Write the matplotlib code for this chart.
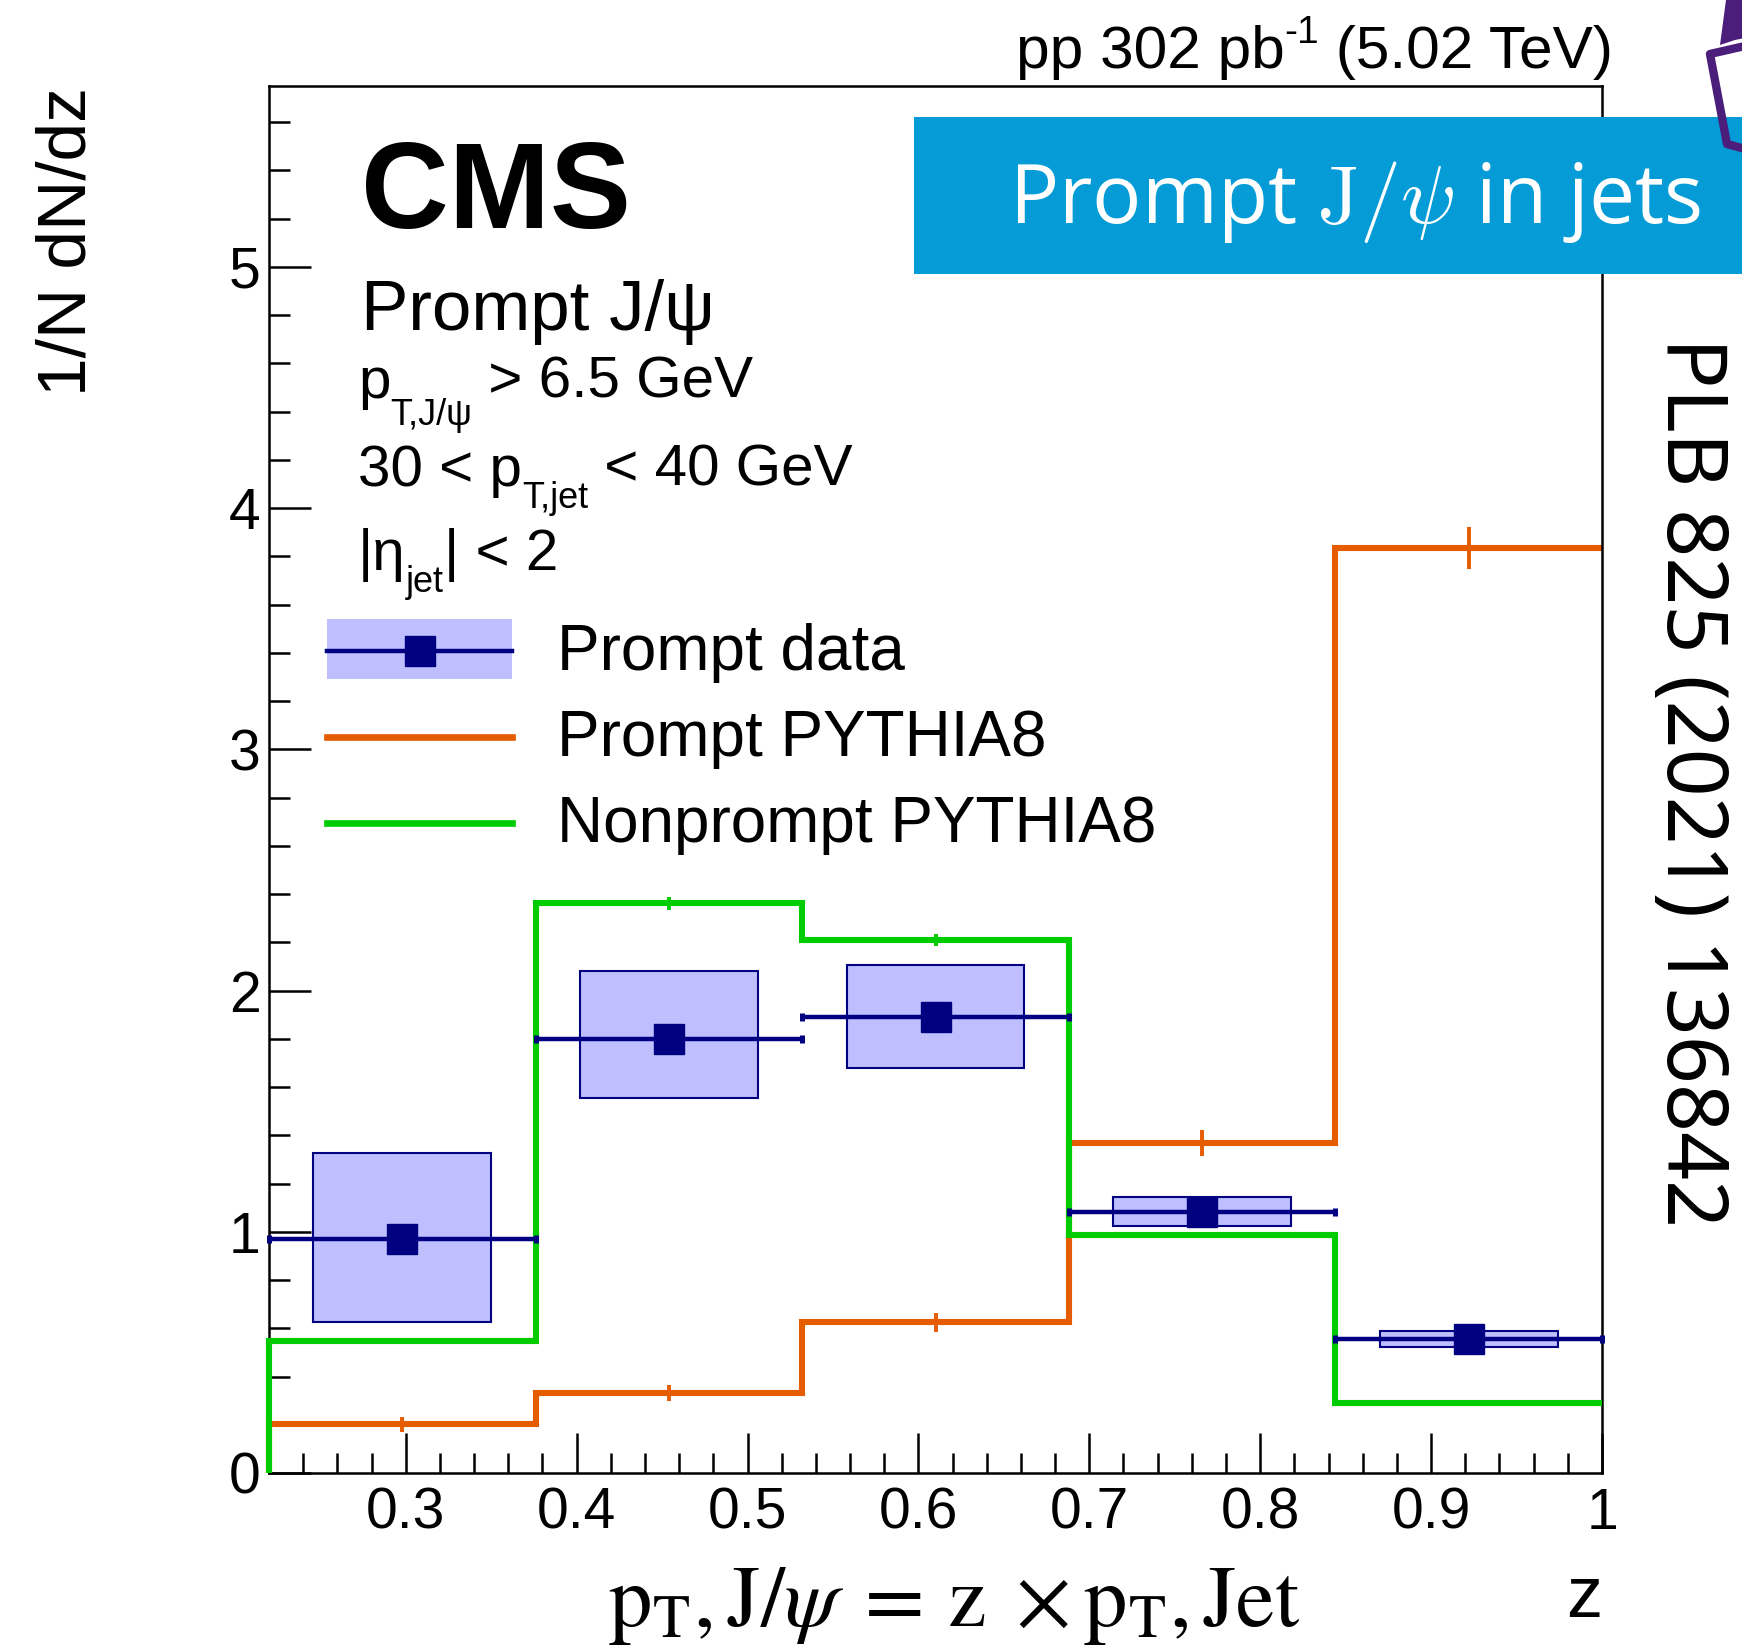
import numpy as np
import matplotlib
matplotlib.use("Agg")
import matplotlib.pyplot as plt
from matplotlib.ticker import FixedLocator, FixedFormatter, MultipleLocator
from matplotlib.patches import Rectangle, Patch
from matplotlib.lines import Line2D
from matplotlib.transforms import Affine2D
from matplotlib.legend_handler import HandlerPatch

# ---------------- data ----------------
z_edges = [0.22, 0.376, 0.532, 0.688, 0.844, 1.0]

data_prompt = [0.972, 1.800, 1.892, 1.083, 0.557]
data_syst_up = [0.355, 0.283, 0.216, 0.060, 0.033]
data_syst_dn = [0.346, 0.245, 0.212, 0.060, 0.033]

pythia_prompt = [0.202, 0.331, 0.625, 1.369, 3.836]
pythia_prompt_err = [0.032, 0.032, 0.040, 0.053, 0.087]

pythia_nonprompt = [0.548, 2.361, 2.211, 0.986, 0.292]
pythia_nonprompt_err = [0.012, 0.025, 0.025, 0.012, 0.012]

xtick_values = [0.3, 0.4, 0.5, 0.6, 0.7, 0.8, 0.9, 1.0]
xtick_labels = ["0.3", "0.4", "0.5", "0.6", "0.7", "0.8", "0.9", "1"]
ytick_values = [0, 1, 2, 3, 4, 5]
ytick_labels = ["0", "1", "2", "3", "4", "5"]

legend_labels = ["Prompt data", "Prompt PYTHIA8", "Nonprompt PYTHIA8"]

# ---------------- style ----------------
NAVY = "#000080"
BOXFILL = "#bfbfff"
ORANGE = "#e65c00"
GREEN = "#00cc00"
BANNER = "#049bd6"
PURPLE = "#4b1e7c"

plt.rcParams["font.family"] = ["Liberation Sans", "DejaVu Sans"]

W, H = 1742, 1648
fig = plt.figure(figsize=(W / 100, H / 100), dpi=100)
ax = fig.add_axes([269 / W, 1 - 1473 / H, (1602 - 269) / W, (1473 - 86) / H])

# pixel transform with origin at the top-left corner of the canvas
tpx = Affine2D().scale(1, -1).translate(0, H)

edges = np.asarray(z_edges)
centers = 0.5 * (edges[:-1] + edges[1:])
half_w = 0.5 * np.diff(edges)


def step_xy(vals):
    xs = np.concatenate([[edges[0]], np.repeat(edges, 2)[1:-1]])
    ys = np.concatenate([[0.0], np.repeat(vals, 2)])
    return xs, ys


# PYTHIA8 histograms
for vals, errs, col, z in [(pythia_prompt, pythia_prompt_err, ORANGE, 2),
                           (pythia_nonprompt, pythia_nonprompt_err, GREEN, 3)]:
    xs, ys = step_xy(vals)
    ax.plot(xs, ys, color=col, lw=4.4, clip_on=False, zorder=z,
            solid_joinstyle="miter", solid_capstyle="butt")
    ax.errorbar(centers, vals, yerr=errs, fmt="none", ecolor=col,
                elinewidth=2.8, capsize=0, zorder=z)

# data: systematic boxes
box_w = (2.0 / 3.0) * np.diff(edges)
up = np.asarray(data_syst_up)
dn = np.asarray(data_syst_dn)
vals = np.asarray(data_prompt)
ax.bar(centers, up + dn, bottom=vals - dn, width=box_w, facecolor=BOXFILL,
       edgecolor=NAVY, linewidth=1.5, zorder=4)

# data points with bin-width bars
eb = ax.errorbar(centers, vals, xerr=half_w, fmt="s", color=NAVY, ms=21,
                 elinewidth=3.2, capsize=2.9, capthick=3.6, zorder=5)
for art in eb.lines[1] + eb.lines[2] + (eb.lines[0],):
    art.set_clip_on(False)

# axes
ax.set_xlim(edges[0], edges[-1])
ax.set_ylim(0, 5.75)
ax.xaxis.set_major_locator(FixedLocator(xtick_values))
ax.xaxis.set_major_formatter(FixedFormatter(xtick_labels))
ax.yaxis.set_major_locator(FixedLocator(ytick_values))
ax.yaxis.set_major_formatter(FixedFormatter(ytick_labels))
ax.xaxis.set_minor_locator(MultipleLocator(0.02))
ax.yaxis.set_minor_locator(MultipleLocator(0.2))
ax.tick_params(which="both", direction="in", top=False, right=False, width=1.8,
               labelsize=41, color="black")
ax.tick_params(axis="x", which="major", length=28.8, pad=10)
ax.tick_params(axis="x", which="minor", length=14.4)
ax.tick_params(axis="y", which="major", length=30, pad=6)
ax.tick_params(axis="y", which="minor", length=15)
for sp in ax.spines.values():
    sp.set_linewidth(1.8)


# legend
def band_key(legend, orig_handle, xdescent, ydescent, width, height, fontsize):
    return Rectangle((-xdescent, -0.146 * fontsize), width, 0.94 * fontsize)


handles = [
    (Patch(facecolor=BOXFILL, edgecolor="none"),
     Line2D([], [], color=NAVY, lw=3.2, marker="s", ms=21)),
    Line2D([], [], color=ORANGE, lw=4.8),
    Line2D([], [], color=GREEN, lw=4.8),
]
ax.legend(handles, legend_labels, loc="upper left",
          bbox_to_anchor=(327 / W, 1 - 623 / H), bbox_transform=fig.transFigure,
          handler_map={Patch: HandlerPatch(patch_func=band_key)},
          frameon=False, fontsize=46, handlelength=2.9, handleheight=0.35,
          handletextpad=0.7, labelspacing=0.41, borderpad=0, borderaxespad=0)


# ---------------- text ----------------
def chain(pieces, x, y, ha="left"):
    """Draw text pieces side by side; each piece is (text, size, raise_px)."""
    yb = H - y
    seq = pieces if ha == "left" else pieces[::-1]
    prev = None
    for s, size, dy in seq:
        if prev is None:
            t = ax.annotate(s, xy=(x, yb + dy), xycoords="figure pixels",
                            fontsize=size, ha=ha, va="baseline",
                            annotation_clip=False)
        else:
            t = ax.annotate(s, xy=(1 if ha == "left" else 0, yb + dy),
                            xycoords=(prev, "figure pixels"),
                            fontsize=size, ha=ha, va="baseline",
                            annotation_clip=False)
        prev = t


fig.text(361 / W, 1 - 228 / H, "CMS", fontsize=87.5, fontweight="bold",
         va="baseline")
fig.text(361 / W, 1 - 330 / H, "Prompt J/ψ", fontsize=51, va="baseline")
chain([("p", 42, 0), ("T,J/ψ", 26, -27), (" > 6.5 GeV", 42, 0)], 358, 398)
chain([("30 < p", 42, 0), ("T,jet", 26, -22), (" < 40 GeV", 42, 0)], 358, 486)
chain([("|η", 42, 0), ("jet", 26, -22), ("| < 2", 42, 0)], 358, 570)

chain([("pp 302 pb", 43.5, 0), ("-1", 28, 25), (" (5.02 TeV)", 43.5, 0)],
      1613, 68, ha="right")

fig.text(68 / W, 1 - 87 / H, "1/N dN/dz", rotation=90, ha="center",
         va="top", fontsize=50)
fig.text(1602 / W, 1 - 1617 / H, "z", ha="right", va="baseline", fontsize=52)
fig.text(954 / W, 1 - 1626 / H,
         r"$\mathrm{p}_{\mathrm{T}}, \mathrm{J}/\psi\; = \,\mathrm{z}\;\times "
         r"\mathrm{p}_{\mathrm{T}}, \mathrm{Jet}$",
         ha="center", va="baseline", fontsize=62.5, math_fontfamily="stix")

# banner
fig.add_artist(Rectangle((914, 274), W - 914 + 5, -157, transform=tpx,
                         facecolor=BANNER, edgecolor="none", zorder=5))
fig.text(1009 / W, 1 - 223 / H, r"Prompt $\mathrm{J}/\psi$ in jets",
         fontfamily="Open Sans", math_fontfamily="cm", fontsize=59,
         color="white", va="baseline", zorder=6)

# publication reference
fig.text(1689 / W, 1 - 337 / H, "PLB 825 (2021) 136842", rotation=270,
         ha="center", va="top", fontfamily="Noto Sans", fontsize=60.5)

# corner icon
fig.add_artist(plt.Polygon([(1726, 0), (1745, 0), (1745, 38), (1735, 40),
                            (1720, 45)], closed=True, transform=tpx,
                           facecolor=PURPLE, edgecolor="none", zorder=7))
fig.add_artist(Line2D([1745, 1710, 1727, 1745], [46, 54, 144, 149],
                      transform=tpx, color=PURPLE, lw=6,
                      solid_joinstyle="round", solid_capstyle="butt",
                      zorder=7))

fig.savefig("out.png", dpi=100)
